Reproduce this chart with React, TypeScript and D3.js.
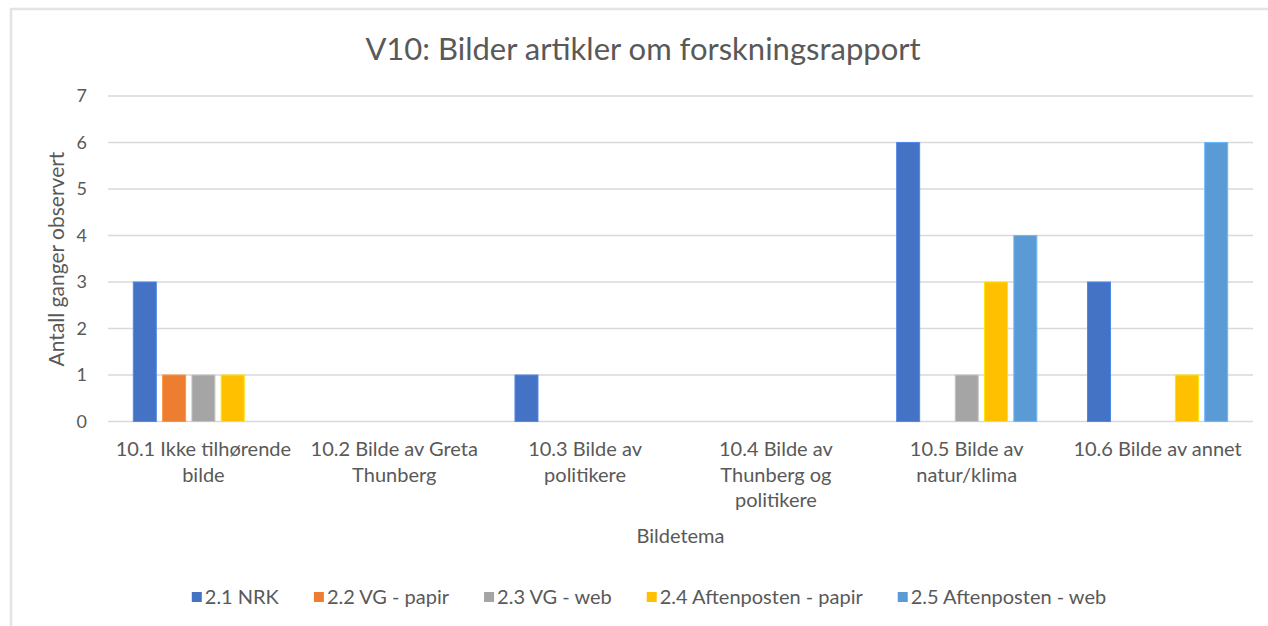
import React, { useEffect, useRef } from "react";
import * as d3 from "d3";

const categories: string[][] = [
  ["10.1 Ikke tilhørende", "bilde"],
  ["10.2 Bilde av Greta", "Thunberg"],
  ["10.3 Bilde av", "politikere"],
  ["10.4 Bilde av", "Thunberg og", "politikere"],
  ["10.5 Bilde av", "natur/klima"],
  ["10.6 Bilde av annet"],
];
const seriesNames = [
  "2.1 NRK",
  "2.2 VG - papir",
  "2.3 VG - web",
  "2.4 Aftenposten - papir",
  "2.5 Aftenposten - web",
];
const seriesColors = ["#4472C4", "#ED7D31", "#A5A5A5", "#FFC000", "#5B9BD5"];
const nrk = [3, 0, 1, 0, 6, 3];
const vgPapir = [1, 0, 0, 0, 0, 0];
const vgWeb = [1, 0, 0, 0, 1, 0];
const aftenPapir = [1, 0, 0, 0, 3, 1];
const aftenWeb = [0, 0, 0, 0, 4, 6];
const seriesValues = [nrk, vgPapir, vgWeb, aftenPapir, aftenWeb];
const yTicks = [0, 1, 2, 3, 4, 5, 6, 7];
const title = "V10: Bilder artikler om forskningsrapport";
const yTitle = "Antall ganger observert";
const xTitle = "Bildetema";

const W = 1268;
const H = 626;
const FONT = "Lato, 'Open Sans', sans-serif";
const TXT = "#595959";

export default function App() {
  const ref = useRef<SVGSVGElement>(null);
  useEffect(() => {
    const svg = d3.select(ref.current);
    svg.selectAll("*").remove();

    // chart frame
    svg.append("rect").attr("x", 0).attr("y", 0).attr("width", W).attr("height", H).attr("fill", "#fff");
    svg.append("line").attr("x1", 10).attr("x2", W).attr("y1", 9).attr("y2", 9)
      .attr("stroke", "#e4e4e4").attr("stroke-width", 2.5);
    svg.append("line").attr("x1", 11).attr("x2", 11).attr("y1", 8).attr("y2", H)
      .attr("stroke", "#e4e4e4").attr("stroke-width", 2.5);

    const left = 108, right = 1253, top = 96, bottom = 421.5;
    const catKeys = categories.map((c) => c.join(" "));
    const x0 = d3.scaleBand<string>().domain(catKeys).range([left, right]).paddingInner(0).paddingOuter(0);
    const x1 = d3.scaleBand<string>().domain(seriesNames).range([0, x0.bandwidth()])
      .paddingInner(0.215).paddingOuter(0.864);
    const y = d3.scaleLinear().domain([0, 7]).range([bottom, top]);

    // gridlines
    svg.append("g").selectAll("line").data(yTicks).join("line")
      .attr("x1", left).attr("x2", right)
      .attr("y1", (d) => y(d)).attr("y2", (d) => y(d))
      .attr("stroke", "#d9d9d9").attr("stroke-width", 1.5);

    // y tick labels
    svg.append("g").selectAll("text").data(yTicks).join("text")
      .attr("x", 87).attr("y", (d) => y(d)).attr("dy", "0.36em")
      .attr("text-anchor", "end").attr("font-family", FONT).attr("font-size", 18)
      .attr("fill", TXT).text((d) => String(d));

    // bars
    seriesNames.forEach((s, si) => {
      const c = seriesColors[si];
      svg.append("g").selectAll("rect")
        .data(seriesValues[si].map((v, i) => ({ v, k: catKeys[i] })).filter((d) => d.v > 0))
        .join("rect")
        .attr("x", (d) => (x0(d.k) as number) + (x1(s) as number))
        .attr("width", x1.bandwidth())
        .attr("y", (d) => y(d.v))
        .attr("height", (d) => y(0) - y(d.v))
        .attr("fill", c)
        .attr("stroke", d3.color(c)!.brighter(0.5).formatHex())
        .attr("stroke-width", 1);
    });

    // category labels
    const lineH = 25.5;
    categories.forEach((lines, i) => {
      const cx = (x0(catKeys[i]) as number) + x0.bandwidth() / 2;
      const t = svg.append("text").attr("text-anchor", "middle").attr("font-family", FONT)
        .attr("font-size", 20).attr("fill", TXT);
      lines.forEach((ln, li) => {
        t.append("tspan").attr("x", cx).attr("y", 456 + li * lineH).text(ln);
      });
    });

    // axis titles
    svg.append("text").attr("x", (left + right) / 2).attr("y", 543).attr("text-anchor", "middle")
      .attr("font-family", FONT).attr("font-size", 20).attr("fill", TXT).text(xTitle);
    svg.append("text").attr("transform", `translate(64,259) rotate(-90)`)
      .attr("text-anchor", "middle").attr("font-family", FONT).attr("font-size", 21)
      .attr("fill", TXT).text(yTitle);

    // title
    svg.append("text").attr("x", 643).attr("y", 60).attr("text-anchor", "middle")
      .attr("font-family", FONT).attr("font-size", 31).attr("fill", TXT).text(title);

    // legend
    const lg = svg.append("g");
    const sq = 10, gapTxt = 3, gapItem = 35;
    let cur = 0;
    seriesNames.forEach((s, si) => {
      const g = lg.append("g");
      g.append("rect").attr("x", 0).attr("y", -sq / 2).attr("width", sq).attr("height", sq).attr("fill", seriesColors[si]);
      const t = g.append("text").attr("x", sq + gapTxt).attr("dy", "0.36em")
        .attr("font-family", FONT).attr("font-size", 20).attr("fill", TXT).text(s);
      const tw = (t.node() as SVGTextElement).getComputedTextLength();
      g.attr("transform", `translate(${cur},0)`);
      cur += sq + gapTxt + tw + gapItem;
    });
    const total = cur - gapItem;
    lg.attr("transform", `translate(${649 - total / 2},597)`);
  }, []);

  return (
    <svg ref={ref} width={W} height={H} style={{ position: "absolute", left: 0, top: 0, display: "block" }} />
  );
}
